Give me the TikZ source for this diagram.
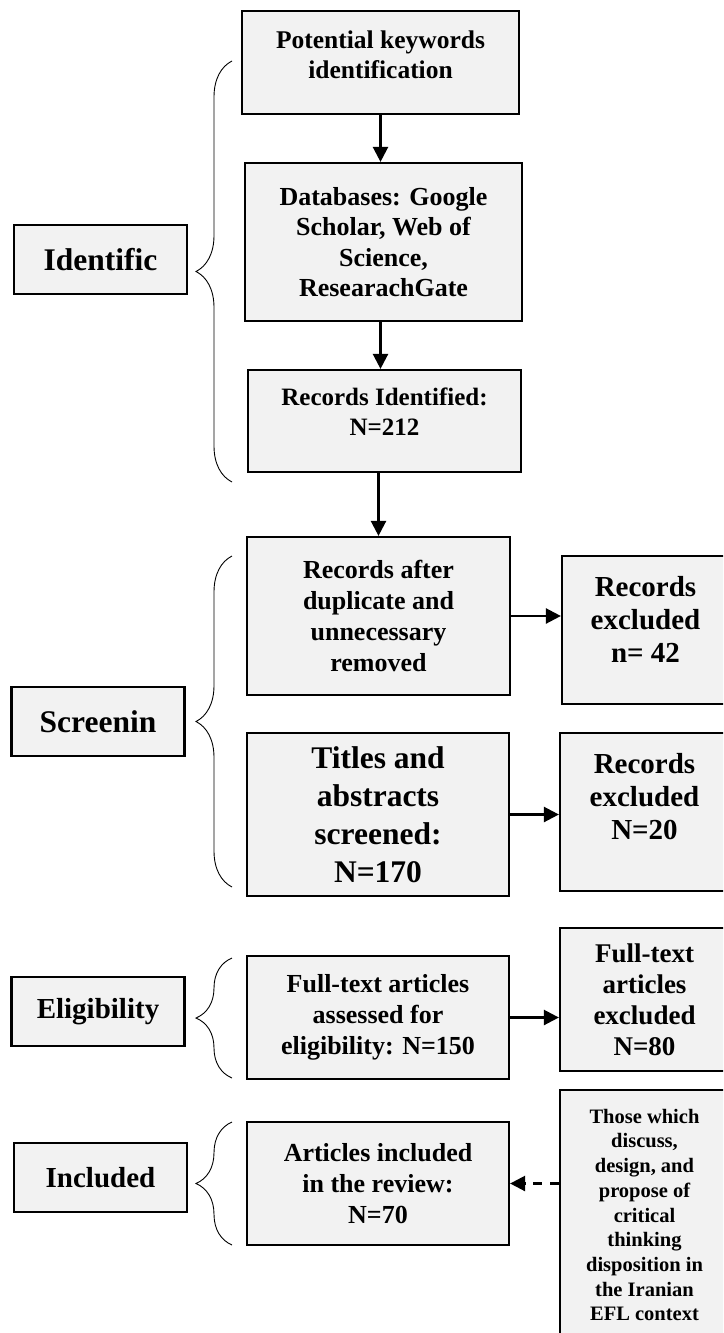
\documentclass[tikz,border=0pt]{standalone}
\usepackage{fontspec}
\setmainfont{Liberation Serif}
\usetikzlibrary{arrows.meta,decorations.pathreplacing}

\begin{document}
\begin{tikzpicture}[x=1pt,y=-1pt]
	\tikzstyle{box}=[draw=black,line width=2.2pt,fill=black!5,align=center,inner sep=2pt]
	\tikzstyle{stage}=[box,minimum width=173pt,minimum height=69pt]
	\tikzstyle{edge}=[draw,line width=2.4pt,-{Triangle[length=15pt,width=15pt]},black]
	\tikzstyle{dashed edge}=[edge,dash pattern=on 9pt off 8pt]
	\tikzstyle{brace}=[draw,line width=0.9pt,decorate,decoration={brace,amplitude=36pt}]
	
	\useasboundingbox (0,0) rectangle (723,1333);
	\clip (0,0) rectangle (723,1333);
	
	% main column
	\node[box,minimum width=277pt,minimum height=103pt,font=\bfseries\fontsize{25.5}{30}\selectfont] (kw) at (380.5,62.5) {Potential keywords\\identification\\[-14pt]};
	\node[box,minimum width=277pt,minimum height=158pt,font=\bfseries\fontsize{26}{30.5}\selectfont] (db) at (383.5,242) {Databases: Google\\Scholar, Web of\\Science,\\ResearachGate};
	\node[box,minimum width=273pt,minimum height=102pt,font=\bfseries\fontsize{25}{30}\selectfont] (rid) at (384.5,421) {Records Identified:\\N=212\\[-12pt]};
	\node[box,minimum width=263pt,minimum height=158pt,font=\bfseries\fontsize{26}{31}\selectfont] (dup) at (378.5,616) {Records after\\duplicate and\\unnecessary\\removed};
	\node[box,minimum width=262pt,minimum height=163pt,font=\bfseries\fontsize{31.5}{38}\selectfont] (tit) at (378,814.5) {Titles and\\abstracts\\screened:\\N=170};
	\node[box,minimum width=262pt,minimum height=123pt,font=\bfseries\fontsize{26}{31}\selectfont] (fta) at (378,1017.5) {Full-text articles\\assessed for\\eligibility: N=150};
	\node[box,minimum width=262pt,minimum height=123pt,font=\bfseries\fontsize{26}{31}\selectfont] (inc) at (378,1183.5) {Articles included\\in the review:\\N=70};
	
	% excluded column
	\node[box,minimum width=167pt,minimum height=148pt,font=\bfseries\fontsize{29}{33}\selectfont] (ex1) at (645.5,630) {Records\\excluded\\n= 42\\[-11pt]};
	\node[box,minimum width=169pt,minimum height=158pt,font=\bfseries\fontsize{29}{33}\selectfont] (ex2) at (644.5,812) {Records\\excluded\\N=20\\[-1pt]};
	\node[box,minimum width=169pt,minimum height=143pt,font=\bfseries\fontsize{27}{31}\selectfont] (ex3) at (644.5,999.5) {Full-text\\articles\\excluded\\N=80};
	\node[box,minimum width=169pt,minimum height=250pt,font=\bfseries\fontsize{20.5}{24.7}\selectfont] (crit) at (644.5,1215) {Those which\\discuss,\\design, and\\propose of\\critical\\thinking\\disposition in\\the Iranian\\EFL context};
	
	% stages
	\node[stage,font=\bfseries\fontsize{31.5}{36}\selectfont] (sid) at (100.5,259.5) {Identific};
	\node[stage,font=\bfseries\fontsize{31.5}{36}\selectfont] (sscr) at (98,721.5) {Screenin};
	\node[stage,font=\bfseries\fontsize{29}{34}\selectfont] (selig) at (98,1011.5) {Eligibility};
	\node[stage,font=\bfseries\fontsize{29}{34}\selectfont] (sinc) at (100.5,1177.5) {Included};
	
	\draw[brace] (232,482) -- (232,61);
	\draw[brace] (232,887) -- (232,556);
	\draw[brace] (232,1078) -- (232,958);
	\draw[brace] (232,1245) -- (232,1122);
	
	\draw[edge] (kw.south) -- (kw.south |- db.north);
	\draw[edge] (db.south -| kw.south) -- (kw.south |- rid.north);
	\draw[edge] (rid.south -| dup.north) -- (dup.north);
	\draw[edge] (dup.east) -- (dup.east -| ex1.west);
	\draw[edge] (tit.east) -- (tit.east -| ex2.west);
	\draw[edge] (fta.east) -- (fta.east -| ex3.west);
	\draw[dashed edge] (inc.east -| crit.west) -- (inc.east);
\end{tikzpicture}
\end{document}
